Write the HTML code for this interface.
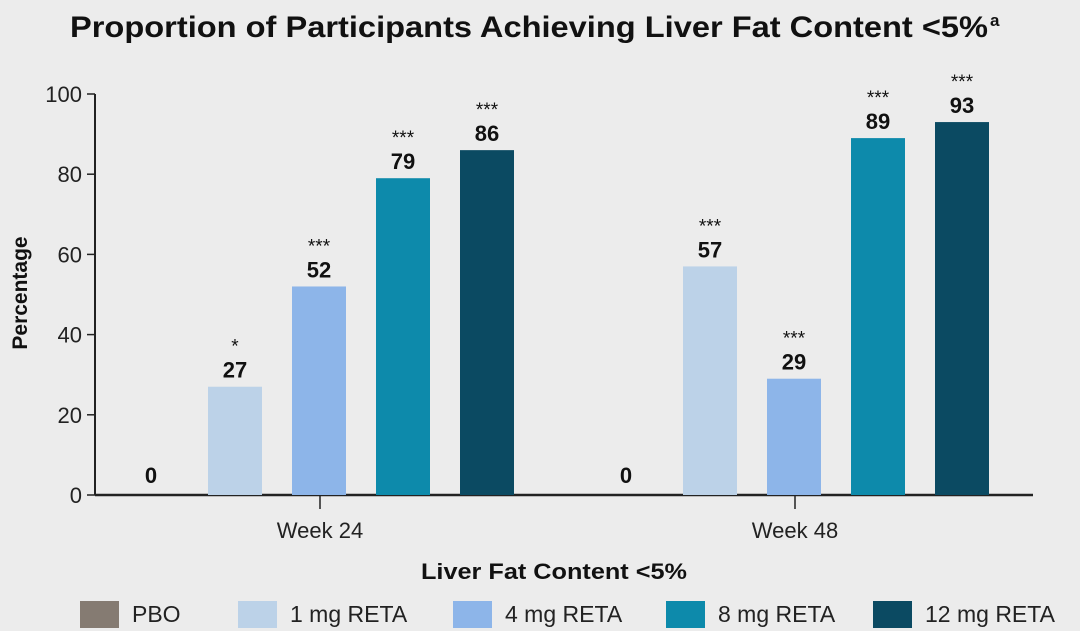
<!DOCTYPE html>
<html><head><meta charset="utf-8"><style>
html,body{margin:0;padding:0;background:#ececec;}
svg{display:block;font-family:"Liberation Sans",Arial,sans-serif;}
</style></head><body>
<svg id="chart" width="1080" height="631">
<rect width="1080" height="631" fill="#ececec"/>
<text x="70" y="37" font-size="30" font-weight="bold" fill="#111" textLength="918" lengthAdjust="spacingAndGlyphs">Proportion of Participants Achieving Liver Fat Content &lt;5%</text>
<text x="990" y="26" font-size="17" font-weight="bold" fill="#111">a</text>
<text transform="translate(27,293) rotate(-90)" text-anchor="middle" font-size="21" font-weight="bold" fill="#111">Percentage</text>
<text x="421" y="579" font-size="22" font-weight="bold" fill="#111" textLength="266" lengthAdjust="spacingAndGlyphs">Liver Fat Content &lt;5%</text>
<g id="plot"></g>
<g id="legend"></g>
</svg>
<script>
const groups = ["Week 24", "Week 48"];
const seriesNames = ["PBO", "1 mg RETA", "4 mg RETA", "8 mg RETA", "12 mg RETA"];
const week24 = [0, 27, 52, 79, 86];
const week48 = [0, 57, 29, 89, 93];
const sig24 = ["", "*", "***", "***", "***"];
const sig48 = ["", "***", "***", "***", "***"];
const yTicks = [0, 20, 40, 60, 80, 100];

const colors = ["#857b72", "#bcd2e8", "#8db5e9", "#0d8aab", "#0b4a62"];
const NS = "http://www.w3.org/2000/svg";
const plot = document.getElementById("plot");
const legend = document.getElementById("legend");
const x0 = 95, x1 = 1033, yBase = 495, yTop = 94;
function y(v){ return yBase - (v/100)*(yBase-yTop); }
const groupStart = [124, 599];
const step = 84, barW = 54;
const tickX = [320, 795];
function bx(g,i){ return groupStart[g] + i*step; }
function mk(tag, attrs, parent){ const e=document.createElementNS(NS,tag); for(const k in attrs) e.setAttribute(k,attrs[k]); parent.appendChild(e); return e; }

let ax = mk("line",{x1:x0,y1:yTop,x2:x0,y2:yBase,stroke:"#222","stroke-width":2},plot);


let xa = mk("line",{x1:x0,y1:yBase,x2:x1,y2:yBase,stroke:"#222","stroke-width":2.5},plot);


yTicks.forEach(t=>{
  const l = mk("line",{x1:x0-8,y1:y(t),x2:x0,y2:y(t),stroke:"#222","stroke-width":1.5},plot);
  
  
  const tx = mk("text",{x:x0-13,y:y(t)+8,"text-anchor":"end","font-size":22,fill:"#222"},plot);
  tx.textContent = t;
  
  
});
const data = [week24, week48], sigs = [sig24, sig48];
groups.forEach((gname,g)=>{
  const cx = tickX[g];
  const tk = mk("line",{x1:cx,y1:yBase,x2:cx,y2:yBase+14,stroke:"#222","stroke-width":1.5},plot);
  
  
  const lt = mk("text",{x:cx,y:yBase+43,"text-anchor":"middle","font-size":22,fill:"#222"},plot);
  lt.textContent = gname;
  
  
  data[g].forEach((v,i)=>{
    const r = mk("rect",{x:bx(g,i),y:y(v),width:barW,height:yBase-y(v),fill:colors[i]},plot);
    
    
    const vt = mk("text",{x:bx(g,i)+barW/2,y:y(v)-9,"text-anchor":"middle","font-size":22,"font-weight":"bold",fill:"#111"},plot);
    if(v===0) vt.setAttribute("y", yBase-12);
    vt.textContent = v;
    
    
    if(sigs[g][i]){
      const st = mk("text",{x:bx(g,i)+barW/2,y:y(v)-34,"text-anchor":"middle","font-size":19,fill:"#111"},plot);
      st.textContent = sigs[g][i];
      
      
    }
  });
});
const legX = [80, 238, 453, 666, 873];
seriesNames.forEach((n,i)=>{
  const r = mk("rect",{x:legX[i],y:601,width:39,height:27,fill:colors[i]},legend);
  
  
  const t = mk("text",{x:legX[i]+52,y:622,"font-size":23,fill:"#222"},legend);
  t.textContent = n;
  
  
});
</script>
</body></html>
